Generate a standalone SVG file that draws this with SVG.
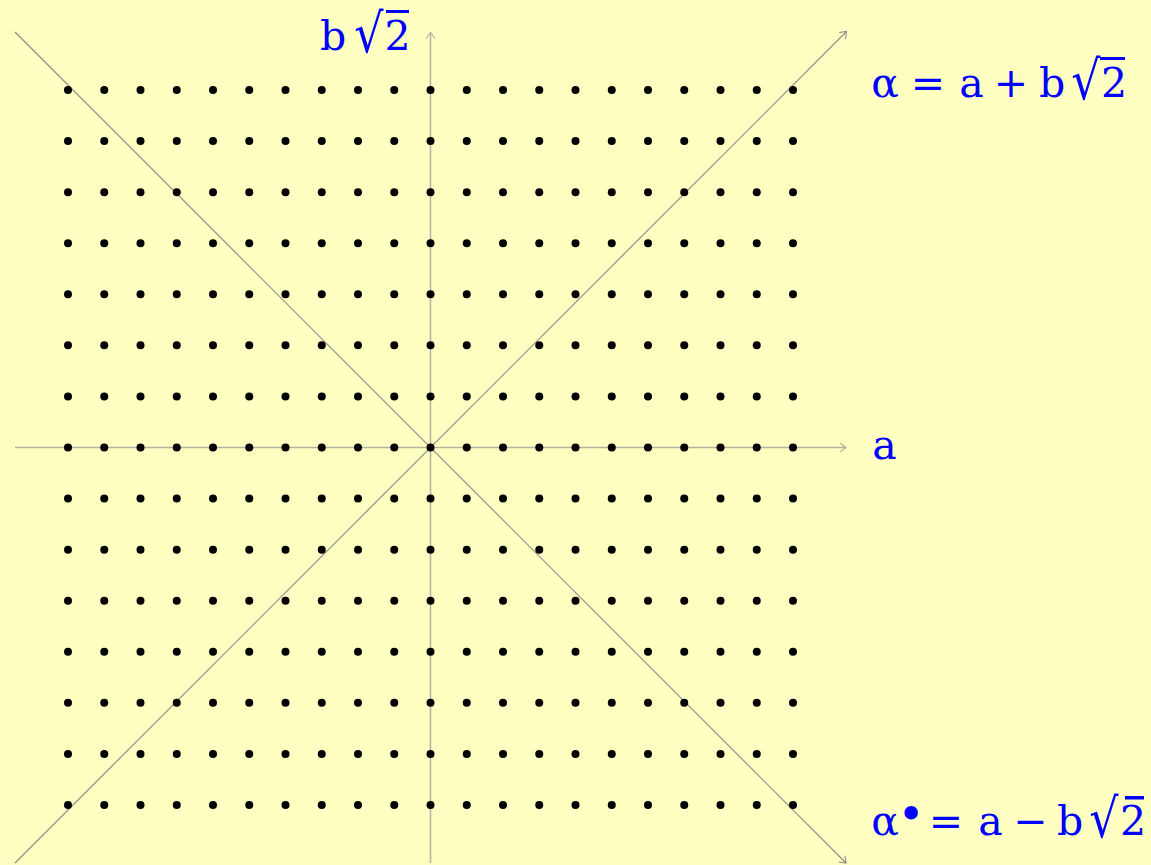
<svg xmlns="http://www.w3.org/2000/svg" xmlns:xlink="http://www.w3.org/1999/xlink" width="1151" height="865" viewBox="0 0 1151 865">
<style>
.ax{stroke:#b2b2a4;stroke-width:1.5;fill:none}
.dg{stroke:#8e8e8a;stroke-width:1.2;fill:none}
.l{font-family:"DejaVu Serif","Liberation Serif",serif;font-size:41px;fill:#0000ff;text-anchor:middle}
.r{font-size:54px}
.ov{fill:#0000ff}
</style>
<defs>
<marker id="ha" markerUnits="userSpaceOnUse" markerWidth="14" markerHeight="14" refX="0" refY="0" viewBox="-8 -7 10 14" orient="auto">
<path d="M-6,-4.5 L0,0 L-6,4.5" fill="none" stroke="#b2b2a4" stroke-width="1.2"/>
</marker>
<marker id="hd" markerUnits="userSpaceOnUse" markerWidth="14" markerHeight="14" refX="0" refY="0" viewBox="-8 -7 10 14" orient="auto">
<path d="M-6,-4.5 L0,0 L-6,4.5" fill="none" stroke="#8e8e8a" stroke-width="1.1"/>
</marker>
<g id="row">
<circle cx="68" cy="0" r="4"/><circle cx="104.25" cy="0" r="4"/><circle cx="140.5" cy="0" r="4"/><circle cx="176.75" cy="0" r="4"/><circle cx="213" cy="0" r="4"/><circle cx="249.25" cy="0" r="4"/><circle cx="285.5" cy="0" r="4"/><circle cx="321.75" cy="0" r="4"/><circle cx="358" cy="0" r="4"/><circle cx="394.25" cy="0" r="4"/><circle cx="430.5" cy="0" r="4"/><circle cx="466.75" cy="0" r="4"/><circle cx="503" cy="0" r="4"/><circle cx="539.25" cy="0" r="4"/><circle cx="575.5" cy="0" r="4"/><circle cx="611.75" cy="0" r="4"/><circle cx="648" cy="0" r="4"/><circle cx="684.25" cy="0" r="4"/><circle cx="720.5" cy="0" r="4"/><circle cx="756.75" cy="0" r="4"/><circle cx="793" cy="0" r="4"/>
</g>
</defs>
<rect width="1151" height="865" fill="#ffffc2"/>
<g id="connectors">
<line class="ax" x1="15" y1="447.5" x2="846" y2="447.5" marker-end="url(#ha)"/>
<line class="ax" x1="430.5" y1="863" x2="430.5" y2="32.5" marker-end="url(#ha)"/>
<line class="dg" x1="15" y1="32" x2="846" y2="863" marker-end="url(#hd)"/>
<line class="dg" x1="15" y1="863" x2="846.5" y2="31.5" marker-end="url(#hd)"/>
</g>
<g id="lattice" fill="#000">
<use xlink:href="#row" y="90"/>
<use xlink:href="#row" y="141.07"/>
<use xlink:href="#row" y="192.14"/>
<use xlink:href="#row" y="243.21"/>
<use xlink:href="#row" y="294.29"/>
<use xlink:href="#row" y="345.36"/>
<use xlink:href="#row" y="396.43"/>
<use xlink:href="#row" y="447.5"/>
<use xlink:href="#row" y="498.57"/>
<use xlink:href="#row" y="549.64"/>
<use xlink:href="#row" y="600.71"/>
<use xlink:href="#row" y="651.79"/>
<use xlink:href="#row" y="702.86"/>
<use xlink:href="#row" y="753.93"/>
<use xlink:href="#row" y="805"/>
</g>
<g id="label-b">
<text class="l" x="333" y="50">b</text>
<text class="l r" transform="translate(369,52) scale(0.85,1)">√</text>
<rect class="ov" x="386" y="10" width="23" height="3"/>
<text class="l" x="397.5" y="50">2</text>
</g>
<g id="label-alpha">
<text class="l" x="885" y="97">α</text>
<text class="l" x="928" y="97">=</text>
<text class="l" x="971.5" y="97">a</text>
<text class="l" x="1011" y="97">+</text>
<text class="l" x="1052" y="97">b</text>
<text class="l r" transform="translate(1086,99) scale(0.85,1)">√</text>
<rect class="ov" x="1100" y="57" width="25" height="3"/>
<text class="l" x="1114" y="97">2</text>
</g>
<g id="label-a">
<text class="l" x="884.5" y="459">a</text>
</g>
<g id="label-conj">
<text class="l" x="885" y="835">α</text>
<text class="l" x="911" y="830" style="font-size:46px">•</text>
<text class="l" x="946" y="835">=</text>
<text class="l" x="990.5" y="835">a</text>
<text class="l" x="1030.5" y="835">−</text>
<text class="l" x="1070" y="835">b</text>
<text class="l r" transform="translate(1104,837) scale(0.85,1)">√</text>
<rect class="ov" x="1125" y="796" width="19" height="3.5"/>
<text class="l" x="1133" y="835">2</text>
</g>
</svg>
